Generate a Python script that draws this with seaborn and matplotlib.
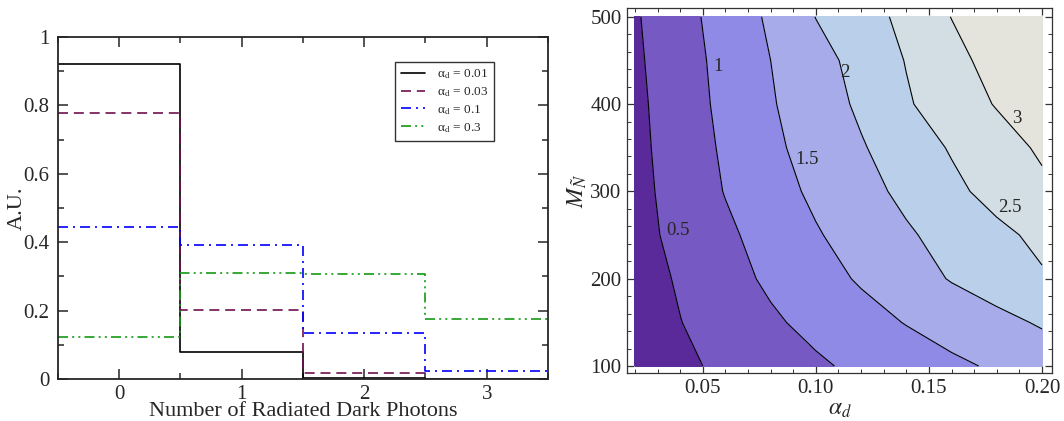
import numpy as np
import pandas as pd
import matplotlib
matplotlib.use('Agg')
import matplotlib.pyplot as plt
import seaborn as sns
from matplotlib.lines import Line2D
from matplotlib.ticker import MultipleLocator, FormatStrFormatter

# left panel: distribution of radiated dark photons
n_photons = [0, 1, 2, 3]
alpha_labels = ['0.01', '0.03', '0.1', '0.3']
frac_001 = [0.920, 0.078, 0.003, 0.0]
frac_003 = [0.779, 0.202, 0.017, 0.0]
frac_01 = [0.444, 0.392, 0.134, 0.023]
frac_03 = [0.124, 0.309, 0.306, 0.174]

# right panel: mean number of photons
alpha_grid = [0.02, 0.04, 0.06, 0.08, 0.10, 0.12, 0.14, 0.16, 0.18, 0.20]
mass_grid = [100, 150, 200, 250, 300, 350, 400, 450, 500]
n_mean = [
    [0.23, 0.41, 0.59, 0.76, 0.93, 1.10, 1.25, 1.41, 1.56, 1.72],
    [0.27, 0.49, 0.71, 0.93, 1.13, 1.33, 1.52, 1.70, 1.87, 2.05],
    [0.29, 0.55, 0.83, 1.08, 1.32, 1.55, 1.79, 2.03, 2.23, 2.45],
    [0.34, 0.63, 0.91, 1.19, 1.46, 1.70, 1.94, 2.17, 2.39, 2.61],
    [0.35, 0.69, 1.02, 1.31, 1.59, 1.84, 2.11, 2.39, 2.66, 2.90],
    [0.37, 0.73, 1.07, 1.40, 1.685, 1.96, 2.25, 2.54, 2.80, 3.07],
    [0.39, 0.76, 1.12, 1.46, 1.76, 2.08, 2.45, 2.75, 3.03, 3.30],
    [0.42, 0.79, 1.15, 1.50, 1.82, 2.17, 2.52, 2.85, 3.18, 3.50],
    [0.45, 0.83, 1.20, 1.575, 2.01, 2.30, 2.62, 3.01, 3.40, 3.80],
]
levels = [0, 0.5, 1.0, 1.5, 2.0, 2.5, 3.0, 4.0]
level_labels = ['0.5', '1', '1.5', '2', '2.5', '3']

sns.set_style('ticks')
plt.rcParams['font.family'] = ['Liberation Serif', 'DejaVu Serif']
plt.rcParams['mathtext.fontset'] = 'stix'

fig = plt.figure(figsize=(10.64, 4.21), dpi=100)
ax1 = fig.add_axes([0.0545, 0.0998, 0.4605, 0.8124])
ax2 = fig.add_axes([0.5893, 0.114, 0.3994, 0.867])

# ---- left panel
series = [frac_001, frac_003, frac_01, frac_03]
colors = ['black', '#6e0f4e', '#0000ff', '#139a13']
styles = ['-', (0, (6, 3.5)), (0, (6, 3, 1.2, 3)), (0, (6, 2.5, 1.2, 2.5, 1.2, 2.5))]
handles = []
for vals, lab, c, ls in zip(series, alpha_labels, colors, styles):
    df = pd.DataFrame({'n': n_photons, 'w': vals})
    sns.histplot(data=df, x='n', weights='w', discrete=True, element='step',
                 fill=False, color=c, linestyle=ls, linewidth=1.2, ax=ax1)
    handles.append(Line2D([], [], color=c, linestyle=ls, linewidth=1.2,
                          label=r'α$_{\mathrm{d}}$ = ' + lab))

ax1.set_xlim(-0.5, 3.5)
ax1.set_ylim(0, 1)
ax1.xaxis.set_major_locator(MultipleLocator(1))
ax1.xaxis.set_minor_locator(MultipleLocator(0.5))
ax1.yaxis.set_major_locator(MultipleLocator(0.2))
ax1.yaxis.set_minor_locator(MultipleLocator(0.1))
ax1.yaxis.set_major_formatter(plt.FuncFormatter(lambda v, p: f'{v:g}'))
ax1.tick_params(which='both', direction='in', top=True, right=True, labelsize=15, pad=6)
ax1.tick_params(axis='x', pad=4)
ax1.tick_params(which='major', length=7, width=1.1)
ax1.tick_params(which='minor', length=4, width=1.1)
for s in ax1.spines.values():
    s.set_linewidth(1.3)
ax1.set_xlabel('Number of Radiated Dark Photons', fontsize=16)
ax1.xaxis.set_label_coords(0.5, -0.066)
ax1.set_ylabel('A.U.', fontsize=16)
ax1.yaxis.set_label_coords(-0.064, 0.5)
leg = ax1.legend(handles=handles, loc='upper right', bbox_to_anchor=(0.889, 0.928),
                 fontsize=9.5, frameon=True, fancybox=False, handlelength=1.8,
                 labelspacing=0.3, borderpad=0.45, handletextpad=0.9, borderaxespad=0)
leg.get_frame().set_edgecolor('black')
leg.get_frame().set_linewidth(1.0)

# ---- right panel
band_colors = ['#5b2a9a', '#7659c2', '#8f8ae6', '#a8abe9', '#bacfe9', '#d2dde4', '#e4e4dc']
A, M = np.meshgrid(alpha_grid, mass_grid)
Z = np.array(n_mean)
ax2.contourf(A, M, Z, levels=levels, colors=band_colors)
ax2.contour(A, M, Z, levels=levels[1:-1], colors='black', linewidths=0.8)

label_pos = [(0.039, 255), (0.0567, 443), (0.0961, 337), (0.113, 436), (0.186, 282), (0.189, 384)]
for (xa, ym), t in zip(label_pos, level_labels):
    ax2.text(xa, ym, t, fontsize=13.5, ha='center', va='center')

ax2.set_xlim(0.0165, 0.2044)
ax2.set_ylim(92, 510)
ax2.xaxis.set_major_locator(MultipleLocator(0.05))
ax2.xaxis.set_minor_locator(MultipleLocator(0.01))
ax2.yaxis.set_major_locator(MultipleLocator(100))
ax2.yaxis.set_minor_locator(MultipleLocator(20))
ax2.xaxis.set_major_formatter(FormatStrFormatter('%.2f'))
ax2.tick_params(which='both', direction='in', top=True, right=True, labelsize=15,
                color='#333333', pad=4)
ax2.tick_params(which='major', length=5, width=0.9)
ax2.tick_params(which='minor', length=3, width=0.7)
for s in ax2.spines.values():
    s.set_linewidth(0.9)
    s.set_color('#333333')
ax2.set_xlabel(r'$\alpha_d$', fontsize=17, labelpad=1)
ax2.set_ylabel(r'$M_{\tilde{N}}$', fontsize=17, labelpad=1)

fig.savefig('out.png', dpi=100)
